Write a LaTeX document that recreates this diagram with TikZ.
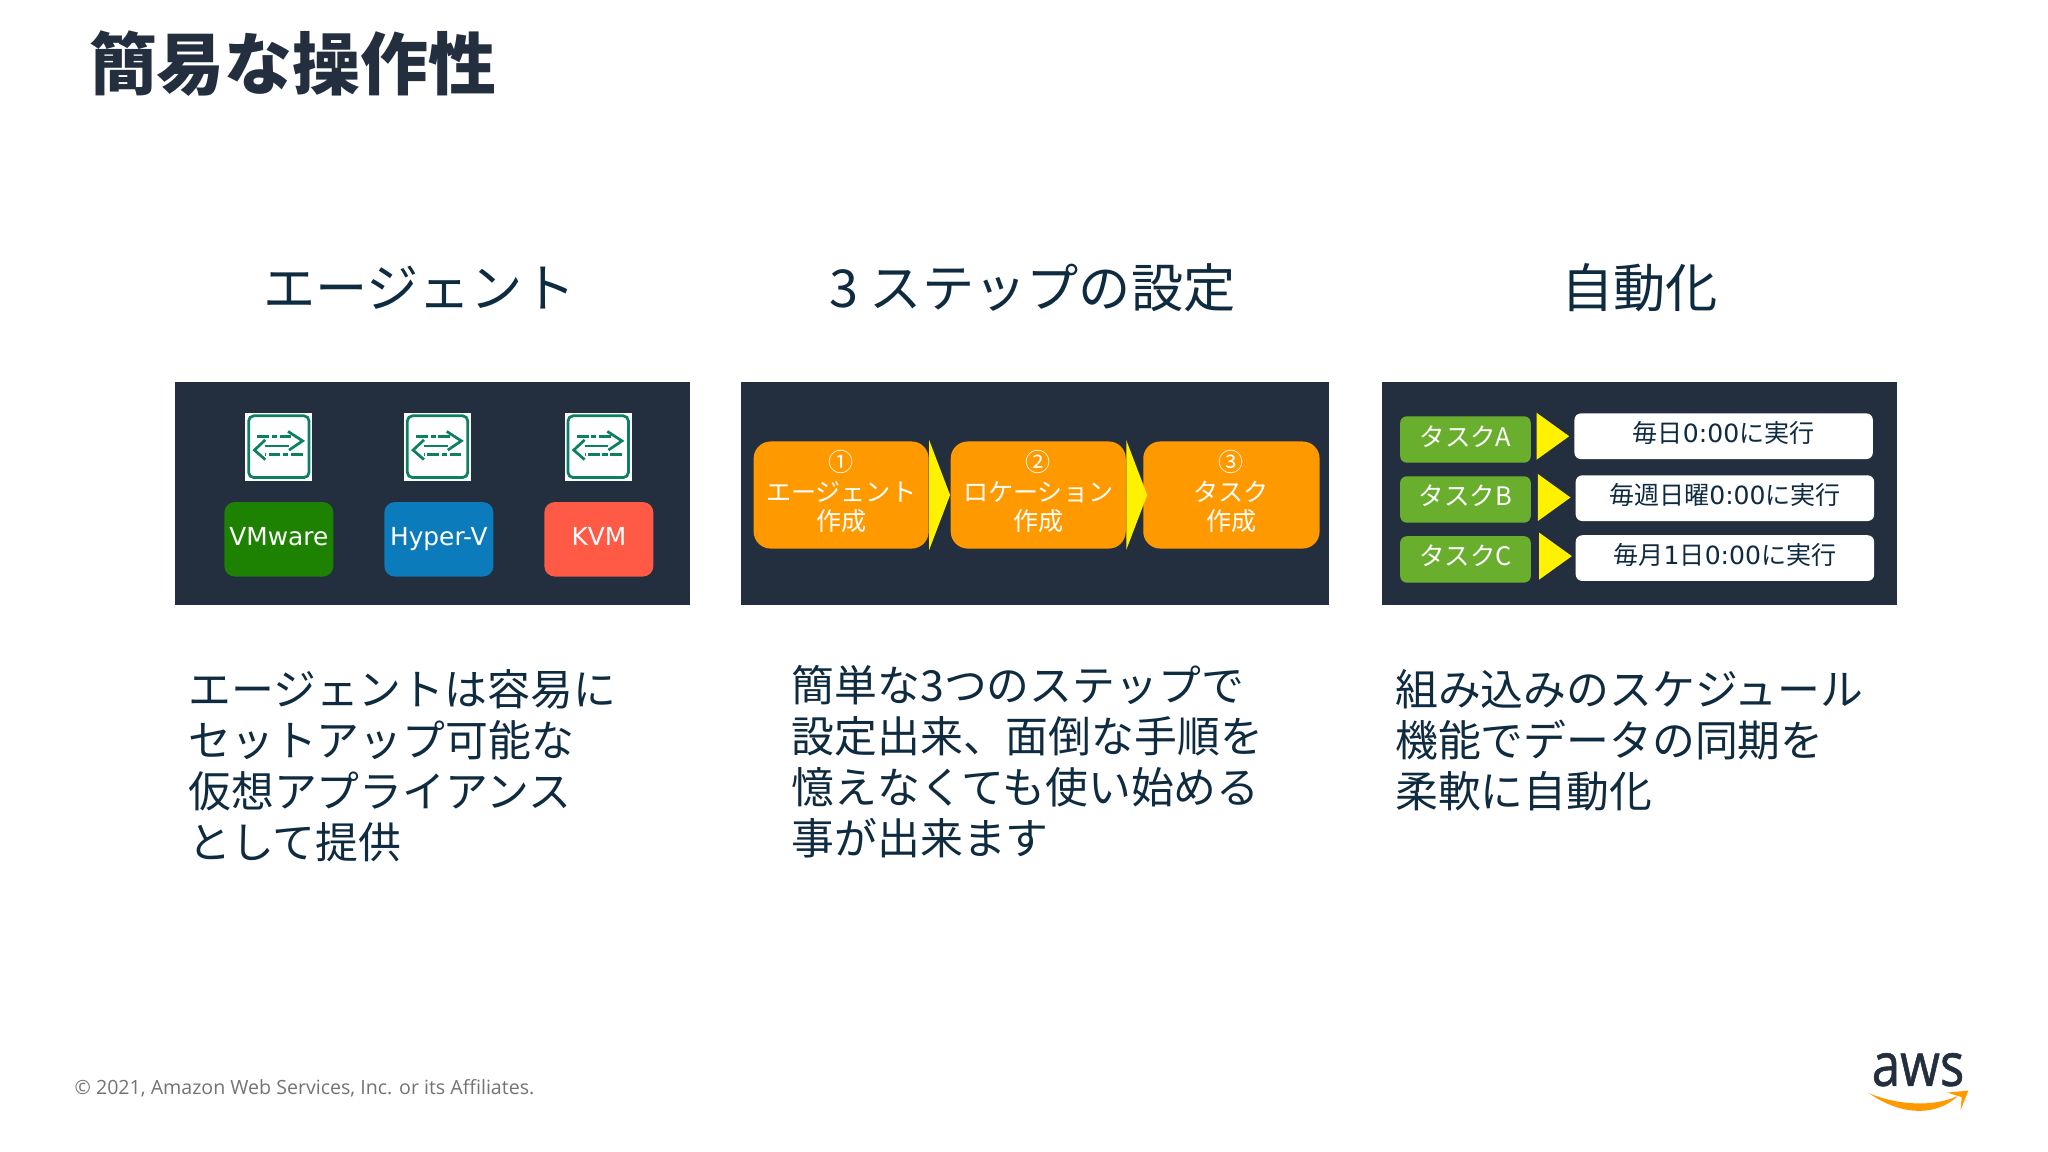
\documentclass[tikz,border=0pt]{standalone}
\usepackage{fontspec}
\setmainfont{Noto Sans CJK JP}
\newfontfamily\latin{DejaVu Sans}
\newfontfamily\foot{Open Sans}
\newfontfamily\logo[FakeBold=1.1]{Open Sans}
\usepackage{tikz}
\usetikzlibrary{arrows.meta,positioning,shapes.geometric}
\definecolor{navy}{HTML}{232F3E}
\definecolor{ink}{HTML}{0F2B40}
\definecolor{icongreen}{HTML}{0E8062}
\definecolor{awsorange}{HTML}{FF9900}
\definecolor{taskgreen}{HTML}{6AAE2E}
\newcommand{\fs}[2]{\fontsize{#1}{#2}\selectfont}
\begin{document}
\begin{tikzpicture}[x=1pt,y=-1pt, panel/.style={rectangle,fill=navy,inner sep=0pt,minimum height=171pt}, heading/.style={text=ink,inner sep=0pt,font=\fs{40}{47}}, body/.style={anchor=north west,align=left,text=ink,inner sep=0pt,font=\fs{32.8}{39}}, iconbox/.style={rectangle,fill=white,inner sep=0pt,minimum width=51.5pt,minimum height=52pt}, vendor/.style={rectangle,rounded corners=8pt,inner sep=0pt,minimum width=83.5pt,minimum height=57pt,text=white,text height=13pt,text depth=4pt,font=\latin\fs{19}{23}}, stepbox/.style={rectangle,rounded corners=13pt,fill=awsorange,inner sep=0pt,minimum width=134pt,minimum height=82pt,text=white,align=center,text depth=7pt,font=\fs{19.2}{22.5}}, task/.style={rectangle,rounded corners=5pt,fill=taskgreen,inner sep=0pt,minimum width=100pt,minimum height=35.5pt,text=white,text height=16pt,text depth=6pt,font=\fs{19.5}{24}}, when/.style={rectangle,rounded corners=5pt,fill=white,inner sep=0pt,minimum width=228.5pt,minimum height=35pt,text=ink,text height=16pt,text depth=6pt,font=\fs{19.2}{22}}, bigtri/.style={isosceles triangle,isosceles triangle stretches,fill=yellow,inner sep=0pt,anchor=lower side,minimum width=84pt,minimum height=16pt}, smalltri/.style={isosceles triangle,isosceles triangle stretches,fill=yellow,inner sep=0pt,anchor=lower side,minimum width=36pt,minimum height=25pt}, syncicon/.pic={
\begin{scope}[x=.26pt,y=-.26pt,draw=icongreen,line width=2.1pt]
\draw[rounded corners=4pt,line width=2.1pt] (-89,-91) rectangle (89,91);
\draw[dash pattern=on 9pt off 2pt on 4pt off 2pt] (-63,-30) -- (40,-30);
\draw (27,-45) -- (70,-17) -- (30,10);
\draw (-40,-2) -- (30,-2);
\draw (-40,-20) -- (-72,10) -- (-40,38);
\draw[dash pattern=on 9pt off 2pt on 4pt off 2pt] (70,22) -- (-40,22);
\end{scope}
}]
\useasboundingbox (0,0) rectangle (1568,882);
\node[anchor=west,inner sep=0pt,text=navy,font=\bfseries\fs{52}{60}] (title) at (68,49) {簡易な操作性};

\node[heading] (h1) at (321,220) {エージェント};
\node[heading] (h2) at (790.5,220) {3 ステップの設定};
\node[heading] (h3) at (1255.5,220) {自動化};

\node[panel,minimum width=394pt,anchor=north west] (p1) at (134,292) {};
\node[panel,minimum width=450pt,right=39pt of p1] (p2) {};
\node[panel,minimum width=394pt,right=40pt of p2] (p3) {};

\node[iconbox] (i1) at (213.5,342) {};
\node[iconbox] (i2) at (335,342) {};
\node[iconbox] (i3) at (458,342) {};
\pic at (i1) {syncicon};
\pic at (i2) {syncicon};
\pic at (i3) {syncicon};
\node[vendor,fill={rgb,255:red,29;green,129;blue,2},below=16pt of i1] (vm) {VMware};
\node[vendor,fill={rgb,255:red,11;green,123;blue,187},below=16pt of i2,xshift=1pt] (hv) {Hyper-V};
\node[vendor,fill={rgb,255:red,255;green,90;blue,70},below=16pt of i3,xshift=.5pt] (kvm) {KVM};

\node[stepbox] (s1) at (644,379) {①\\エージェント\\作成};
\node[stepbox,right=16.5pt of s1] (s2) {②\\ロケーション\\作成};
\node[stepbox,right=13pt of s2,minimum width=135pt] (s3) {③\\タスク\\作成};
\node[bigtri] (t1) at (s1.east) {};
\node[bigtri] (t2) at (s2.east) {};

\node[task] (g1) at (1122,336.5) {タスクA};
\node[task,below=10pt of g1] (g2) {タスクB};
\node[task,below=10pt of g2] (g3) {タスクC};
\node[smalltri] (a1) at ([xshift=4pt,yshift=2.5pt]g1.east) {};
\node[smalltri] (a2) at ([xshift=5pt,yshift=1.5pt]g2.east) {};
\node[smalltri] (a3) at ([xshift=6pt,yshift=2.5pt]g3.east) {};
\node[when,right=33pt of g1,yshift=2.5pt] (w1) {毎日{\latin 0:00}に実行};
\node[when,right=34pt of g2,yshift=1pt] (w2) {毎週日曜{\latin 0:00}に実行};
\node[when,right=34pt of g3,yshift=1pt] (w3) {毎月{\latin 1}日{\latin 0:00}に実行};

\node[body] (b1) at (144,512.5) {エージェントは容易に\\セットアップ可能な\\仮想アプライアンス\\として提供};
\node[body] (b2) at (606,509.5) {簡単な3つのステップで\\設定出来、面倒な手順を\\憶えなくても使い始める\\事が出来ます};
\node[body] (b3) at (1068,512.5) {組み込みのスケジュール\\機能でデータの同期を\\柔軟に自動化};

\node[anchor=west,inner sep=0pt,text=black!55,font=\foot\fs{15}{18}] (copy) at (57,833) {© 2021, Amazon Web Services, Inc. or its Affiliates.};
\node[inner sep=0pt,text=navy,xscale=.85,transform shape,font=\logo\fs{46}{50}] (aws) at (1468.5,819) {aws};
\fill[awsorange] (1431,837) .. controls (1452,852) and (1480,857) .. (1499,839) .. controls (1480,848) and (1452,846) .. cycle;
\fill[awsorange] (1491,836.5) -- (1507,835) -- (1501,850) -- (1502,840) -- cycle;
\end{tikzpicture}
\end{document}
